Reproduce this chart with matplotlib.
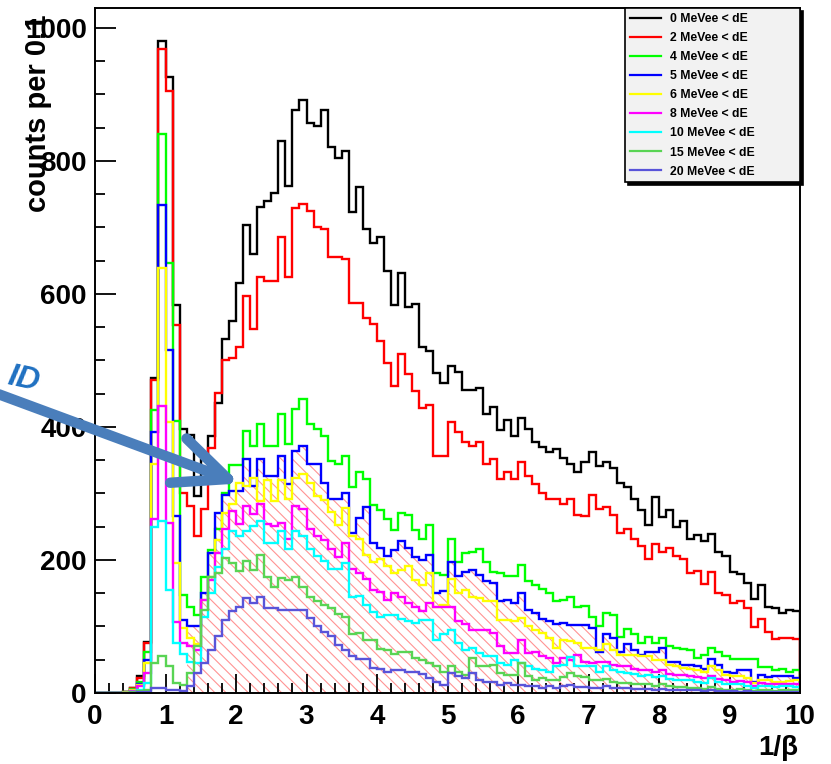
import numpy as np
import matplotlib
matplotlib.use("Agg")
from matplotlib import pyplot as plt
from matplotlib.lines import Line2D
from matplotlib.ticker import MultipleLocator

plt.rcParams["font.family"] = ["Liberation Sans", "DejaVu Sans"]
plt.rcParams["hatch.linewidth"] = 0.8

# 1/beta histograms, 100 bins of 0.1 between 0 and 10
edges = np.linspace(0, 10, 101)

h0 = [0, 0, 0, 0, 2, 8, 25, 77, 473, 981,
      926, 584, 397, 388, 296, 350, 386, 436, 532, 560,
      617, 704, 660, 731, 740, 752, 830, 762, 877, 892,
      857, 852, 877, 821, 804, 815, 724, 761, 697, 676,
      685, 634, 583, 632, 580, 585, 520, 515, 481, 466,
      492, 482, 455, 456, 459, 419, 430, 396, 410, 387,
      413, 397, 377, 370, 362, 367, 354, 344, 332, 348,
      363, 342, 348, 338, 316, 310, 291, 275, 252, 295,
      264, 275, 250, 259, 231, 238, 229, 239, 212, 206,
      182, 179, 165, 141, 163, 129, 128, 121, 125, 123]
h2 = [0, 0, 0, 0, 2, 8, 22, 75, 471, 969,
      905, 553, 300, 281, 236, 277, 368, 451, 500, 503,
      521, 597, 547, 626, 620, 619, 685, 626, 730, 735,
      725, 700, 698, 655, 655, 653, 586, 586, 564, 555,
      530, 496, 461, 510, 480, 454, 428, 433, 357, 357,
      407, 392, 377, 372, 377, 344, 352, 322, 332, 322,
      347, 327, 314, 301, 291, 292, 284, 291, 267, 266,
      297, 276, 279, 267, 240, 247, 231, 221, 201, 224,
      212, 218, 206, 202, 181, 183, 164, 182, 150, 148,
      136, 139, 128, 99, 111, 91, 81, 83, 83, 81]
h4 = [0, 0, 0, 0, 1, 6, 17, 61, 426, 841,
      647, 409, 148, 130, 118, 175, 215, 246, 301, 343,
      343, 394, 372, 404, 372, 372, 420, 374, 427, 442,
      404, 397, 386, 349, 344, 356, 310, 332, 322, 282,
      275, 262, 245, 270, 268, 245, 232, 252, 181, 178,
      232, 197, 210, 212, 217, 197, 182, 180, 176, 176,
      192, 168, 162, 156, 150, 139, 140, 145, 130, 131,
      115, 100, 121, 118, 84, 96, 88, 75, 84, 75,
      83, 71, 68, 66, 65, 52, 57, 68, 62, 56,
      51, 51, 51, 51, 39, 39, 35, 36, 31, 34]
h5 = [0, 0, 0, 0, 1, 5, 14, 50, 392, 734,
      516, 266, 110, 100, 100, 150, 210, 270, 298, 304,
      304, 352, 311, 352, 326, 326, 356, 314, 364, 371,
      344, 344, 316, 291, 291, 300, 241, 263, 279, 225,
      218, 206, 215, 228, 218, 204, 200, 208, 151, 153,
      197, 176, 182, 185, 178, 168, 166, 138, 140, 135,
      151, 125, 120, 111, 108, 104, 106, 103, 103, 103,
      98, 62, 88, 83, 62, 73, 65, 57, 62, 62,
      68, 47, 46, 42, 42, 40, 36, 51, 42, 32,
      30, 34, 34, 17, 27, 24, 25, 25, 25, 22]
h6 = [0, 0, 0, 0, 1, 4, 12, 45, 345, 639,
      408, 196, 98, 83, 73, 140, 175, 230, 270, 284,
      316, 311, 324, 289, 321, 289, 321, 291, 324, 329,
      316, 296, 290, 272, 252, 278, 236, 232, 207, 197,
      202, 191, 180, 185, 191, 170, 163, 181, 130, 133,
      171, 150, 155, 145, 143, 138, 138, 110, 110, 108,
      113, 100, 95, 90, 82, 67, 80, 78, 75, 68,
      68, 65, 73, 65, 57, 57, 57, 55, 55, 50,
      49, 42, 40, 37, 36, 34, 31, 40, 34, 27,
      25, 25, 22, 15, 20, 19, 17, 17, 18, 19]
h8 = [0, 0, 0, 0, 0, 3, 10, 30, 262, 432,
      255, 107, 75, 70, 65, 140, 170, 210, 246, 274,
      254, 281, 269, 284, 254, 251, 256, 231, 281, 277,
      246, 236, 230, 216, 205, 225, 186, 180, 171, 155,
      152, 140, 150, 144, 135, 129, 124, 135, 130, 130,
      130, 108, 104, 95, 95, 95, 90, 70, 60, 60,
      80, 60, 62, 56, 52, 45, 52, 50, 57, 47,
      45, 46, 46, 42, 40, 40, 36, 34, 34, 31,
      34, 29, 27, 27, 25, 24, 22, 26, 21, 19,
      17, 18, 16, 10, 15, 14, 13, 14, 14, 13]
h10 = [0, 0, 0, 0, 0, 2, 5, 15, 250, 258,
       155, 75, 58, 46, 45, 115, 150, 190, 216, 243,
       236, 243, 251, 258, 226, 226, 243, 216, 243, 236,
       216, 206, 199, 186, 187, 195, 145, 146, 132, 122,
       114, 117, 118, 112, 109, 105, 110, 110, 80, 88,
       95, 75, 65, 67, 60, 55, 55, 45, 42, 50,
       45, 40, 36, 35, 32, 40, 42, 54, 40, 41,
       40, 32, 40, 34, 31, 30, 29, 26, 27, 24,
       25, 21, 20, 19, 19, 17, 15, 22, 16, 14,
       13, 13, 10, 8, 11, 10, 9, 10, 11, 9]
h15 = [0, 0, 0, 0, 0, 1, 3, 5, 45, 55,
       40, 15, 12, 30, 70, 125, 175, 180, 203, 195,
       183, 198, 185, 207, 175, 160, 173, 170, 175, 160,
       145, 138, 133, 128, 119, 115, 89, 90, 80, 80,
       66, 65, 58, 62, 61, 53, 50, 45, 40, 32,
       40, 32, 27, 52, 40, 40, 42, 30, 27, 27,
       45, 25, 20, 22, 20, 20, 24, 30, 26, 24,
       20, 19, 21, 17, 15, 15, 14, 13, 13, 11,
       13, 10, 9, 9, 8, 8, 6, 9, 6, 5,
       5, 6, 4, 3, 5, 4, 3, 4, 5, 4]
h20 = [0, 0, 0, 0, 0, 0, 1, 2, 8, 8,
       5, 4, 3, 10, 30, 45, 65, 85, 110, 123,
       130, 143, 135, 145, 128, 128, 125, 125, 125, 125,
       113, 100, 92, 86, 72, 65, 56, 51, 51, 38,
       36, 31, 34, 34, 31, 31, 28, 22, 17, 12,
       30, 25, 22, 30, 20, 17, 17, 12, 15, 12,
       12, 10, 10, 7, 10, 7, 10, 12, 9, 9,
       8, 8, 10, 8, 7, 7, 6, 6, 6, 5,
       6, 5, 4, 5, 4, 4, 3, 4, 3, 3,
       3, 2, 3, 2, 2, 2, 2, 1, 2, 1]

series = [h0, h2, h4, h5, h6, h8, h10, h15, h20]
labels = ["0 MeVee < dE", "2 MeVee < dE", "4 MeVee < dE", "5 MeVee < dE",
          "6 MeVee < dE", "8 MeVee < dE", "10 MeVee < dE", "15 MeVee < dE",
          "20 MeVee < dE"]
colors = ["#000000", "#ff0000", "#00ff00", "#0000ff", "#ffff00",
          "#ff00ff", "#00ffff", "#59d454", "#5954d9"]

cut_bin = 13  # hatched selection starts at 1/beta = 1.3

W, H = 831, 764
fig = plt.figure(figsize=(W / 100, H / 100), dpi=100)
ax = fig.add_axes([95 / W, 1 - 693 / H, 705 / W, 685 / H])

# hatched selection under the 5 MeVee histogram
ax.stairs(h5[cut_bin:], edges[cut_bin:], fill=True, facecolor="none",
          edgecolor="#ff9494", linewidth=0, hatch="\\\\\\", zorder=1)

for vals, c in zip(series, colors):
    ax.stairs(vals, edges, color=c, linewidth=1.7, zorder=2)

ax.set_xlim(0, 10)
ax.set_ylim(0, 1030)
ax.xaxis.set_major_locator(MultipleLocator(1))
ax.xaxis.set_minor_locator(MultipleLocator(0.2))
ax.yaxis.set_major_locator(MultipleLocator(200))
ax.yaxis.set_minor_locator(MultipleLocator(50))
ax.tick_params(which="both", direction="in", top=False, right=False, width=1.3)
ax.tick_params(which="major", length=14)
ax.tick_params(which="minor", length=7)
ax.tick_params(axis="y", which="major", length=15)
ax.tick_params(axis="y", which="minor", length=7.5)
ax.tick_params(axis="x", pad=8)
ax.tick_params(axis="y", pad=6)
for lab in ax.get_xticklabels() + ax.get_yticklabels():
    lab.set_fontsize(20)
    lab.set_fontweight("bold")
for s in ax.spines.values():
    s.set_linewidth(1.4)

fig.text(798 / W, 1 - 748 / H, "1/\u03b2", ha="right", va="center",
         fontsize=20, fontweight="bold")
fig.text(38 / W, 1 - 14 / H, "counts per 0.1", rotation=90, ha="center",
         va="top", fontsize=21, fontweight="bold")

handles = [Line2D([], [], color=c, linewidth=1.6) for c in colors]
leg = ax.legend(handles, labels, loc="upper left",
                bbox_to_anchor=(0.752, 0.749, 0.248, 0.251), mode="expand",
                borderaxespad=0, prop={"weight": "bold", "size": 8.8},
                handlelength=2.5, handletextpad=0.75, labelspacing=0.58,
                borderpad=0.4, fancybox=False, framealpha=1,
                facecolor="#f2f2f2", edgecolor="black",
                shadow={"color": "black", "alpha": 1, "ox": 2, "oy": -2})
leg.get_frame().set_linewidth(1.2)
leg.set_zorder(5)

# annotation arrow (open head) and partially cut text
tip = np.array([228.0, 479.0])
tail = np.array([-10.0, 391.0])
back = (tail - tip) / np.linalg.norm(tail - tip)
wings = []
for ang in (np.radians(24), np.radians(-24)):
    rot = np.array([[np.cos(ang), -np.sin(ang)], [np.sin(ang), np.cos(ang)]])
    wings.append(tip + 58 * rot @ back)
arrow_c = "#4a7ebb"
for p0, p1 in [(tail, tip), (wings[0], tip), (wings[1], tip)]:
    fig.add_artist(Line2D([p0[0] / W, p1[0] / W], [1 - p0[1] / H, 1 - p1[1] / H],
                          transform=fig.transFigure, color=arrow_c, linewidth=7.5,
                          solid_capstyle="round", zorder=10))
fig.text(24 / W, 1 - 380 / H, "ID", rotation=-12, ha="center", va="center",
         fontsize=23, fontweight="bold", fontstyle="italic", color="#1f70c1")

fig.savefig("out.png", dpi=100)
